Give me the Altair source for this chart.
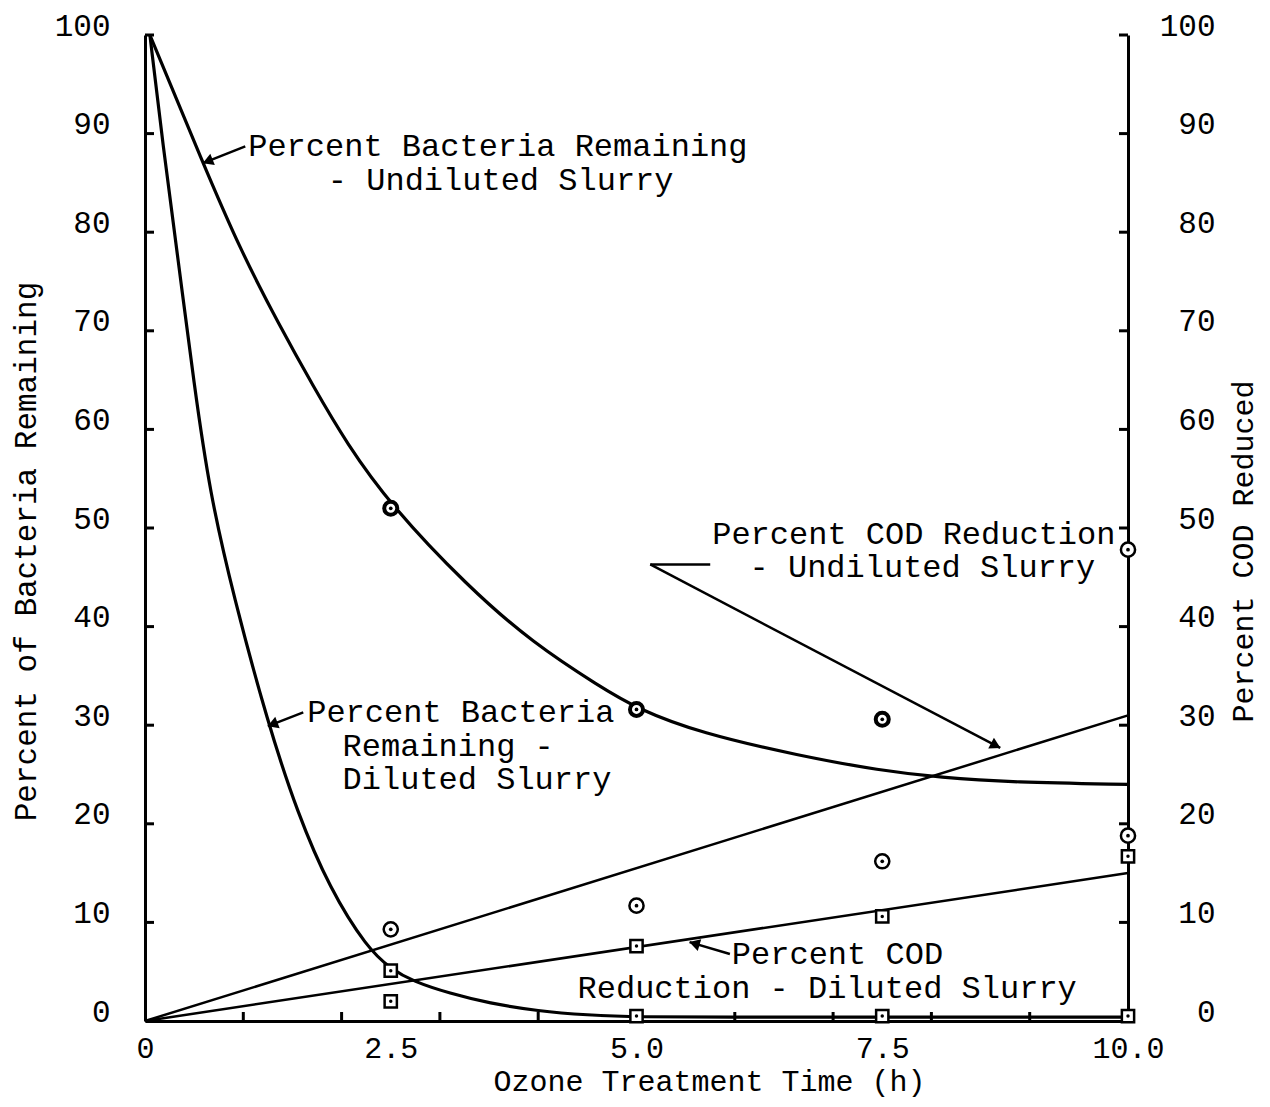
import math
import altair as alt
import pandas as pd

# ---------------- data ----------------
# Percent bacteria remaining - undiluted slurry (fitted curve)
undil_curve_t = [0.05, 0.59, 0.97, 1.37, 1.71, 2.05, 2.5, 3.28, 3.95, 4.63, 5.0, 5.65, 6.66, 7.48, 8.09, 8.83, 10.0]
undil_curve_v = [100, 87.0, 78.2, 70.5, 64.4, 58.6, 52.3, 44.1, 38.3, 33.9, 31.7, 29.2, 26.9, 25.4, 24.7, 24.2, 24.0]
# Percent bacteria remaining - diluted slurry (fitted curve)
dil_curve_t = [0.05, 0.18, 0.34, 0.5, 0.66, 0.9, 1.25, 1.55, 1.88, 2.26, 2.5, 2.73, 3.1, 3.5, 4.0, 4.5, 5.0, 6.0, 7.0, 8.0, 9.0, 10.0]
dil_curve_v = [100, 89.0, 77.0, 64.5, 53.5, 43.1, 30.2, 21.1, 13.4, 7.4, 5.3, 4.0, 2.8, 1.8, 1.0, 0.6, 0.4, 0.4, 0.4, 0.4, 0.4, 0.4]
# measured points
undil_pts_t = [2.5, 5.0, 7.5]
undil_pts_v = [52.0, 31.6, 30.6]
dil_pts_t = [2.5, 5.0, 7.5, 10.0]
dil_pts_v = [5.1, 0.5, 0.5, 0.5]

# Percent COD reduction (right axis)
cod_undil_line_t = [0, 10]
cod_undil_line_v = [0, 31]
cod_dil_line_t = [0, 10]
cod_dil_line_v = [0, 15]
cod_undil_pts_t = [2.5, 5.0, 7.5, 10.0, 10.0]
cod_undil_pts_v = [9.3, 11.7, 16.2, 18.8, 47.8]
cod_dil_pts_t = [2.5, 5.0, 7.5, 10.0]
cod_dil_pts_v = [2.0, 7.6, 10.6, 16.7]

# axis tick values
x_label_vals = [0, 2.5, 5.0, 7.5, 10.0]
x_minor_ticks = [1, 2, 3, 4, 5, 6, 7, 8, 9]
y_ticks = [10, 20, 30, 40, 50, 60, 70, 80, 90, 100]
y_label_vals = [0, 10, 20, 30, 40, 50, 60, 70, 80, 90, 100]

# annotation texts (left edge position in data units)
label_t = [1.05, 1.86, 1.65, 2.01, 2.01, 5.77, 6.15, 5.97, 4.40]
label_v = [88.7, 85.3, 31.3, 27.9, 24.5, 49.4, 46.0, 6.8, 3.35]
label_s = ["Percent Bacteria Remaining", "- Undiluted Slurry",
           "Percent Bacteria", "Remaining -", "Diluted Slurry",
           "Percent COD Reduction", "- Undiluted Slurry",
           "Percent COD", "Reduction - Diluted Slurry"]
# leader lines (tail -> tip)
seg_t = [1.02, 1.61, 5.14, 5.14, 5.95]
seg_v = [88.7, 31.3, 46.3, 46.3, 6.8]
seg_t2 = [0.59, 1.25, 5.75, 8.70, 5.54]
seg_v2 = [87.0, 29.9, 46.3, 27.7, 8.0]
arrow_of_seg = [True, True, False, True, True]

# ---------------- layout ----------------
W, H = 983, 986
FONT = "Liberation Mono"
SX = W / 10.0
SY = H / 100.0

xscale = alt.Scale(domain=[0, 10], nice=False, zero=False)
yscaleL = alt.Scale(domain=[0, 100], nice=False)
yscaleR = alt.Scale(domain=[0, 100], nice=False)

x_axis = alt.Axis(values=x_label_vals,
                  labelExpr="datum.value == 0 ? '0' : format(datum.value, '.1f')",
                  ticks=False, grid=False, domainWidth=3, domainColor="black",
                  labelFont=FONT, labelFontSize=30, labelColor="black",
                  labelPadding=12, labelFlush=False,
                  title="Ozone Treatment Time (h)", titleFont=FONT, titleFontSize=30,
                  titleFontWeight="normal", titleColor="black",
                  titleX=564, titleY=69, titleBaseline="alphabetic")
yL_axis = alt.Axis(values=y_label_vals, orient="left", ticks=False, grid=False,
                   domainWidth=3, domainColor="black",
                   labelFont=FONT, labelFontSize=31, labelColor="black",
                   labelPadding=35, labelOffset=-9, labelFlush=False,
                   title="Percent of Bacteria Remaining", titleFont=FONT, titleFontSize=31,
                   titleFontWeight="normal", titleColor="black", titleAngle=270,
                   titleX=-119, titleY=516, titleBaseline="middle")
yR_axis = alt.Axis(values=y_label_vals, orient="right", ticks=False, grid=False,
                   domainWidth=3, domainColor="black",
                   labelFont=FONT, labelFontSize=31, labelColor="black",
                   labelAlign="right", labelPadding=87, labelOffset=-9, labelFlush=False,
                   title="Percent COD Reduced", titleFont=FONT, titleFontSize=30,
                   titleFontWeight="normal", titleColor="black", titleAngle=270,
                   titleX=115, titleY=516, titleBaseline="middle")

X = alt.X("t:Q", scale=xscale, axis=x_axis)
X2 = alt.X2("t2")
YL = alt.Y("v:Q", scale=yscaleL, axis=yL_axis)
YR = alt.Y("v:Q", scale=yscaleR, axis=yR_axis)
Y2 = alt.Y2("v2")


def df(t, v):
    return pd.DataFrame({"t": t, "v": v})


# ----- left-scale group -----
curve_undil = alt.Chart(df(undil_curve_t, undil_curve_v)).mark_line(
    color="black", strokeWidth=3.2, interpolate="basis").encode(x=X, y=YL)
curve_dil = alt.Chart(df(dil_curve_t, dil_curve_v)).mark_line(
    color="black", strokeWidth=3.2, interpolate="basis").encode(x=X, y=YL)

pts_undil_ring = alt.Chart(df(undil_pts_t, undil_pts_v)).mark_point(
    shape="circle", filled=True, fill="white", stroke="black", strokeWidth=4,
    size=170, opacity=1).encode(x=X, y=YL)
pts_undil_dot = alt.Chart(df(undil_pts_t, undil_pts_v)).mark_point(
    shape="circle", filled=True, color="black", size=14, opacity=1).encode(x=X, y=YL)
pts_dil_sq = alt.Chart(df(dil_pts_t, dil_pts_v)).mark_point(
    shape="square", filled=True, fill="white", stroke="black", strokeWidth=2.5,
    size=150, opacity=1).encode(x=X, y=YL)
pts_dil_dot = alt.Chart(df(dil_pts_t, dil_pts_v)).mark_point(
    shape="circle", filled=True, color="black", size=12, opacity=1).encode(x=X, y=YL)

left_ticks = alt.Chart(pd.DataFrame({"v": y_ticks})).mark_rule(
    color="black", strokeWidth=3).encode(y=YL, x=alt.value(0), x2=alt.value(9))
bottom_ticks = alt.Chart(pd.DataFrame({"t": x_minor_ticks})).mark_rule(
    color="black", strokeWidth=3).encode(x=X, y=alt.value(H), y2=alt.value(H - 9))

labels = alt.Chart(pd.DataFrame({"t": label_t, "v": label_v, "s": label_s})).mark_text(
    align="left", baseline="middle", font=FONT, fontSize=32, color="black").encode(
    x=X, y=YL, text="s:N")

segs = alt.Chart(pd.DataFrame({"t": seg_t, "v": seg_v, "t2": seg_t2, "v2": seg_v2})).mark_rule(
    color="black", strokeWidth=2.5).encode(x=X, y=YL, x2=X2, y2=Y2)

# arrowheads at the tips, oriented along the leader lines
head_t, head_v, head_a = [], [], []
for t0, v0, t1, v1, a in zip(seg_t, seg_v, seg_t2, seg_v2, arrow_of_seg):
    if not a:
        continue
    dx = (t1 - t0) * SX
    dy = -(v1 - v0) * SY
    L = math.hypot(dx, dy)
    ux, uy = dx / L, dy / L
    back = 5.0
    head_t.append(t1 - ux * back / SX)
    head_v.append(v1 + uy * back / SY)
    head_a.append(math.degrees(math.atan2(dx, -dy)) % 360)
heads = alt.Chart(pd.DataFrame({"t": head_t, "v": head_v, "a": head_a})).mark_point(
    shape="triangle-up", filled=True, color="black", size=150, opacity=1).encode(
    x=X, y=YL, angle=alt.Angle("a:Q", scale=None))

groupL = alt.layer(curve_undil, curve_dil, left_ticks, bottom_ticks, segs, heads,
                   labels, pts_undil_ring, pts_undil_dot, pts_dil_sq, pts_dil_dot)

# ----- right-scale group (COD) -----
cod_line_u = alt.Chart(df(cod_undil_line_t, cod_undil_line_v)).mark_line(
    color="black", strokeWidth=2.5).encode(x=X, y=YR)
cod_line_d = alt.Chart(df(cod_dil_line_t, cod_dil_line_v)).mark_line(
    color="black", strokeWidth=2.5).encode(x=X, y=YR)
cod_u_ring = alt.Chart(df(cod_undil_pts_t, cod_undil_pts_v)).mark_point(
    shape="circle", filled=True, fill="white", stroke="black", strokeWidth=2.5,
    size=200, opacity=1).encode(x=X, y=YR)
cod_u_dot = alt.Chart(df(cod_undil_pts_t, cod_undil_pts_v)).mark_point(
    shape="circle", filled=True, color="black", size=14, opacity=1).encode(x=X, y=YR)
cod_d_sq = alt.Chart(df(cod_dil_pts_t, cod_dil_pts_v)).mark_point(
    shape="square", filled=True, fill="white", stroke="black", strokeWidth=2.5,
    size=150, opacity=1).encode(x=X, y=YR)
cod_d_dot = alt.Chart(df(cod_dil_pts_t, cod_dil_pts_v)).mark_point(
    shape="circle", filled=True, color="black", size=12, opacity=1).encode(x=X, y=YR)
right_ticks = alt.Chart(pd.DataFrame({"v": y_ticks})).mark_rule(
    color="black", strokeWidth=3).encode(y=YR, x=alt.value(W - 9), x2=alt.value(W))

groupR = alt.layer(cod_line_u, cod_line_d, right_ticks, cod_u_ring, cod_u_dot,
                   cod_d_sq, cod_d_dot)

chart = alt.layer(groupL, groupR).resolve_scale(y="independent").properties(
    width=W, height=H,
    padding={"left": 137, "top": 27, "right": 134, "bottom": 78},
    autosize=alt.AutoSizeParams(type="none"),
    background="white",
).configure(font=FONT).configure_view(stroke=None)

chart.save("out.html", embed_options={"renderer": "svg", "actions": False})
